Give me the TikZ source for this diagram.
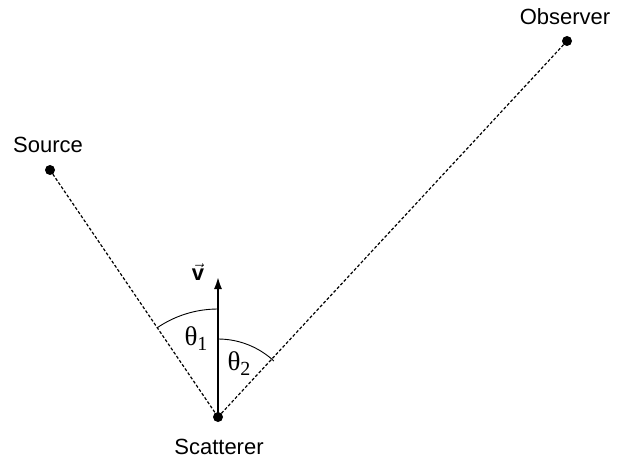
\documentclass[tikz,border=0pt]{standalone}
\usepackage{fontspec}
\setmainfont{Liberation Sans}
\newfontfamily\symserif{Liberation Serif}
\usetikzlibrary{arrows.meta}

\newcommand{\angsym}[1]{{\symserif\fontsize{27}{28}\selectfont θ\raisebox{-0.4ex}{\fontsize{20}{20}\selectfont #1}}}

\begin{document}
\begin{tikzpicture}[
    x=1pt, y=1pt,
    dot/.style={circle, fill=black, inner sep=0pt, minimum size=10pt},
    lbl/.style={font=\fontsize{22}{24}\selectfont, inner sep=0pt},
    ray/.style={dashed, dash pattern=on 3pt off 2pt, line width=1.2pt},
    vel/.style={-{Latex[length=13pt,width=8pt]}, line width=2.6pt}
]
    \useasboundingbox (0,0) rectangle (617,464);

    % Points
    \node[dot] (sct) at (218,47) {};
    \node[dot] (src) at (50,294) {};
    \node[dot] (obs) at (567,423) {};
    \coordinate (vtip) at (218,188);

    % Labels
    \node[lbl] at (48,319) {Source};
    \node[lbl] at (565,447) {Observer};
    \node[lbl] at (219,17) {Scatterer};

    % Rays
    \draw[ray] (src.center) -- (sct.center);
    \draw[ray] (sct.center) -- (obs.center);

    % Velocity
    \draw[vel] (sct.center) -- (vtip);
    \node[inner sep=0pt, font=\fontsize{22}{22}\selectfont] at (198,192) {$\vec{\mathbf{v}}$};

    % Angles
    \draw[line width=0.9pt] (sct.center) ++(124.2:108) arc (124.2:90:108);
    \draw[line width=0.9pt] (sct.center) ++(90:78) arc (90:47.1:82);
    \node[inner sep=0pt] at (196,125) {\angsym{1}};
    \node[inner sep=0pt] at (239,100) {\angsym{2}};
\end{tikzpicture}
\end{document}
